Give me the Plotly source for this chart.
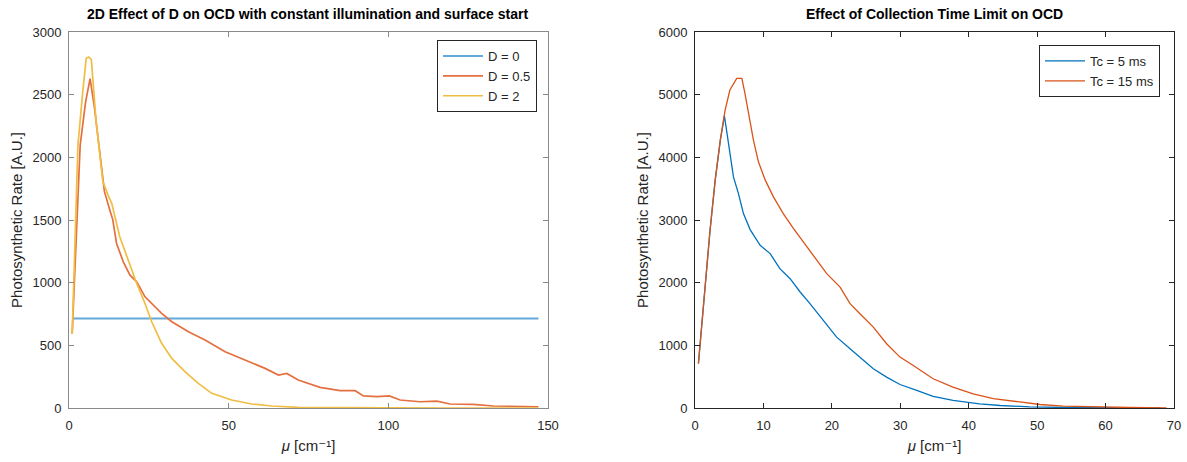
import plotly.graph_objects as go

# ---------------- Left panel data ----------------
d0_x = [1, 147]
d0_y = [715, 715]

d05_x = [1, 2, 3, 3.5, 5.2, 6.6, 8.0, 10.1, 11.1, 12.8, 13.7, 14.9, 17.0, 19.1, 21.2,
         23.8, 26.4, 29.0, 32.2, 37.4, 42.6, 48.9, 55.1, 61.4, 65.6, 68.2, 71.8, 76.5,
         78.6, 84.9, 89.6, 92.2, 96.4, 100.3, 103.7, 109.9, 115.2, 119.3, 126.6, 132.9,
         140.2, 147.0]
d05_y = [590, 1190, 1800, 2098, 2443, 2628, 2390, 1939, 1726, 1578, 1503, 1313, 1166, 1060,
         1007, 887, 821, 755, 688, 608, 542, 449, 383, 316, 263, 276, 223, 183, 165, 138,
         138, 96, 90, 96, 64, 50, 55, 32, 29, 16, 11, 10]

d2_x = [1, 2.8, 4.3, 5.4, 6.2, 7.0, 8.5, 10.6, 12.2, 13.4, 15.9, 18.6, 21.2, 23.8, 25.9,
        29.0, 32.2, 36.3, 40.5, 44.7, 50.9, 57.2, 63.5, 71.8, 80, 100, 120, 147]
d2_y = [590, 2098, 2522, 2790, 2801, 2780, 2283, 1806, 1700, 1631, 1366, 1180, 994, 834,
        688, 516, 396, 290, 197, 117, 64, 32, 16, 5, 3, 1, 0, 0]

# ---------------- Right panel data ----------------
tc5_x = [0.5, 1.0, 1.5, 2.2, 2.95, 3.7, 4.3, 4.66, 5.14, 5.62, 6.35, 7.08, 8.06, 9.52,
         10.98, 12.4, 13.9, 15.36, 16.8, 18.76, 20.7, 22.66, 24.1, 26.06, 28.0, 29.96,
         32.4, 34.8, 37.7, 40.2, 41.6, 44.6, 48.9, 53.8, 60, 68]
tc5_y = [711, 1360, 1990, 2836, 3636, 4275, 4663, 4381, 4008, 3688, 3422, 3103, 2847, 2597,
         2464, 2224, 2064, 1851, 1665, 1398, 1131, 946, 812, 626, 492, 375, 280, 184, 120,
         83, 67, 40, 19, 8, 3, 1]

tc15_x = [0.5, 1.0, 1.5, 2.2, 2.95, 3.7, 4.4, 5.1, 6.1, 6.85, 7.3, 7.96, 8.54, 9.27, 10.25,
          11.46, 12.9, 14.4, 15.84, 17.3, 19.25, 21.2, 22.66, 24.1, 26.06, 28.0, 29.96,
          31.9, 34.8, 37.7, 40.65, 43.6, 47.5, 50.4, 53.8, 58.7, 63.5, 68.9]
tc15_y = [711, 1360, 1990, 2836, 3636, 4275, 4754, 5074, 5260, 5260, 5020, 4594, 4275, 3928,
          3640, 3369, 3103, 2863, 2650, 2437, 2144, 1930, 1665, 1505, 1291, 1026, 812, 679,
          466, 332, 227, 150, 93, 56, 29, 13, 8, 3]

left_xticks = [0, 50, 100, 150]
left_yticks = [0, 500, 1000, 1500, 2000, 2500, 3000]
right_xticks = [0, 10, 20, 30, 40, 50, 60, 70]
right_yticks = [0, 1000, 2000, 3000, 4000, 5000, 6000]

W, H = 1187, 462
FONT = "Liberation Sans, Arial, Helvetica, DejaVu Sans, sans-serif"
TXT = "#262626"
XLABEL = "<i>μ</i> [cm⁻¹]"
YLABEL = "Photosynthetic Rate [A.U.]"

fig = go.Figure()
fig.add_trace(go.Scatter(x=d0_x, y=d0_y, mode="lines", name="D = 0",
                         line=dict(color="#64AADC", width=2), xaxis="x", yaxis="y",
                         legend="legend"))
fig.add_trace(go.Scatter(x=d05_x, y=d05_y, mode="lines", name="D = 0.5",
                         line=dict(color="#E5703F", width=1.7), xaxis="x", yaxis="y",
                         legend="legend"))
fig.add_trace(go.Scatter(x=d2_x, y=d2_y, mode="lines", name="D = 2",
                         line=dict(color="#F0BD45", width=1.7), xaxis="x", yaxis="y",
                         legend="legend"))
fig.add_trace(go.Scatter(x=tc5_x, y=tc5_y, mode="lines", name="Tc = 5 ms",
                         line=dict(color="#0072BD", width=1.3), xaxis="x2", yaxis="y2",
                         legend="legend2"))
fig.add_trace(go.Scatter(x=tc15_x, y=tc15_y, mode="lines", name="Tc = 15 ms",
                         line=dict(color="#D95319", width=1.3), xaxis="x2", yaxis="y2",
                         legend="legend2"))

ydom = [1 - 408 / H, 1 - 32 / H]

def axis_common(color, title, standoff):
    return dict(showline=True, linecolor=color, linewidth=1, mirror="ticks",
                ticks="inside", ticklen=5, tickcolor=color, showgrid=False,
                zeroline=False, automargin=False,
                title=dict(text=title, standoff=standoff,
                           font=dict(family=FONT, size=15, color=TXT)),
                tickfont=dict(family=FONT, size=13, color=TXT))

fig.update_layout(
    width=W, height=H,
    margin=dict(l=0, r=0, t=0, b=0, pad=0, autoexpand=False),
    paper_bgcolor="white", plot_bgcolor="white",
    showlegend=True,
    xaxis=dict(domain=[69 / W, 548 / W], range=[0, 150], tickvals=left_xticks,
               anchor="y", ticklabelstandoff=5, **axis_common("#8A8A8A", XLABEL, 8)),
    yaxis=dict(domain=ydom, range=[0, 3000], tickvals=left_yticks,
               anchor="x", ticklabelstandoff=4, **axis_common("#8A8A8A", YLABEL, 6)),
    xaxis2=dict(domain=[695 / W, 1174 / W], range=[0, 70], tickvals=right_xticks,
                anchor="y2", ticklabelstandoff=5, **axis_common("#262626", XLABEL, 8)),
    yaxis2=dict(domain=ydom, range=[0, 6000], tickvals=right_yticks,
                anchor="x2", ticklabelstandoff=4, **axis_common("#262626", YLABEL, 6)),
    legend=dict(x=537 / W, y=1 - 40 / H, xanchor="right", yanchor="top",
                bgcolor="white", bordercolor="#262626", borderwidth=1,
                font=dict(family=FONT, size=13, color=TXT), itemwidth=40,
                tracegroupgap=0),
    legend2=dict(x=1160 / W, y=1 - 45 / H, xanchor="right", yanchor="top",
                 bgcolor="white", bordercolor="#262626", borderwidth=1,
                 font=dict(family=FONT, size=13, color=TXT), itemwidth=40,
                 tracegroupgap=0),
)

for text, xc in [("<b>2D Effect of D on OCD with constant illumination and surface start</b>", 308),
                 ("<b>Effect of Collection Time Limit on OCD</b>", 934)]:
    fig.add_annotation(text=text, x=xc / W, y=1 - 14 / H, xref="paper", yref="paper",
                       xanchor="center", yanchor="middle", showarrow=False,
                       font=dict(family=FONT, size=14, color="#000000"))

fig.write_html("out.html",
               post_script="document.body.style.margin='0';document.body.style.overflow='hidden';")
